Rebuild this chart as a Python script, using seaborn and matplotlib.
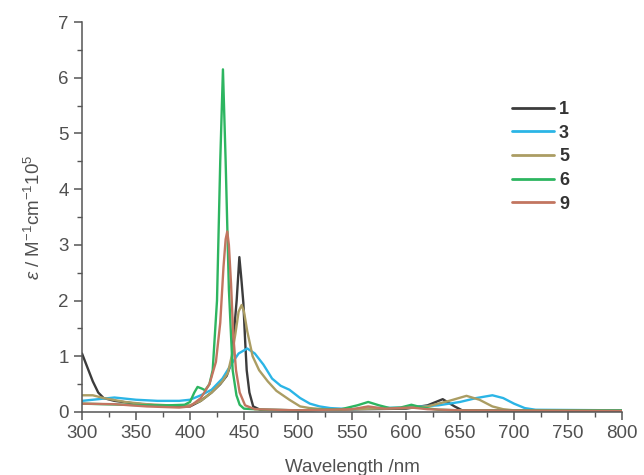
import matplotlib
matplotlib.use("Agg")
import matplotlib.pyplot as plt
from matplotlib.ticker import MultipleLocator
from matplotlib.lines import Line2D
import seaborn as sns
import pandas as pd

# ---- data ----
wl_1 = [300, 305, 310, 315, 320, 330, 350, 380, 400, 410, 420, 428, 434, 438.6, 441, 443.2, 445.7, 447.5, 449.4, 451, 452.5, 455, 458.5, 465, 500, 560, 600, 620, 634, 645, 652, 700, 800]
ab_1 = [1.05, 0.8, 0.55, 0.35, 0.25, 0.2, 0.15, 0.1, 0.1, 0.2, 0.35, 0.5, 0.65, 0.9, 1.5, 2.0, 2.78, 2.4, 1.96, 1.3, 0.75, 0.35, 0.1, 0.04, 0.03, 0.05, 0.06, 0.12, 0.23, 0.1, 0.03, 0.02, 0.02]

wl_3 = [300, 310, 330, 350, 370, 390, 400, 410, 420, 430, 438, 445, 453, 460, 468, 476, 484, 492, 502, 511, 520, 530, 550, 570, 600, 630, 650, 665, 680, 690, 700, 710, 720, 800]
ab_3 = [0.2, 0.22, 0.26, 0.22, 0.2, 0.2, 0.22, 0.3, 0.4, 0.6, 0.85, 1.05, 1.14, 1.05, 0.85, 0.6, 0.47, 0.4, 0.25, 0.15, 0.1, 0.07, 0.05, 0.07, 0.08, 0.12, 0.18, 0.25, 0.3, 0.25, 0.15, 0.07, 0.04, 0.03]

wl_5 = [300, 310, 320, 340, 360, 380, 400, 410, 420, 430, 435, 438.6, 442, 445, 447.8, 450, 453, 458, 464, 472, 480, 492, 502, 511, 530, 550, 570, 600, 620, 640, 656, 668, 680, 690, 700, 800]
ab_5 = [0.3, 0.3, 0.25, 0.18, 0.14, 0.12, 0.12, 0.2, 0.35, 0.55, 0.7, 1.0, 1.4, 1.8, 1.92, 1.8, 1.45, 1.0, 0.75, 0.55, 0.38, 0.22, 0.1, 0.07, 0.04, 0.05, 0.06, 0.07, 0.1, 0.2, 0.29, 0.22, 0.1, 0.05, 0.03, 0.02]

wl_6 = [300, 320, 340, 360, 380, 395, 400, 404, 407, 411, 414, 418, 421, 425, 428, 430.5, 433, 436, 439.5, 443, 446, 450, 470, 500, 540, 555, 565, 575, 585, 595, 605, 615, 630, 650, 700, 800]
ab_6 = [0.15, 0.14, 0.13, 0.12, 0.12, 0.13, 0.18, 0.35, 0.45, 0.42, 0.39, 0.5, 0.75, 2.0, 4.5, 6.15, 4.5, 2.2, 0.75, 0.3, 0.13, 0.06, 0.04, 0.03, 0.05, 0.12, 0.18, 0.12, 0.07, 0.08, 0.13, 0.08, 0.04, 0.03, 0.03, 0.03]

wl_9 = [300, 330, 360, 390, 400, 410, 418, 424, 428, 431, 433, 434.5, 436, 438, 440, 442.6, 446, 451, 460, 500, 550, 565, 580, 605, 620, 650, 800]
ab_9 = [0.15, 0.14, 0.1, 0.08, 0.1, 0.25, 0.5, 0.9, 1.6, 2.6, 3.1, 3.24, 3.0, 2.3, 1.4, 0.75, 0.35, 0.12, 0.05, 0.03, 0.05, 0.1, 0.06, 0.08, 0.05, 0.03, 0.02]

series_names = ["1", "3", "5", "6", "9"]
series_wl = [wl_1, wl_3, wl_5, wl_6, wl_9]
series_ab = [ab_1, ab_3, ab_5, ab_6, ab_9]
colors = ["#3c3c3c", "#2bb5e6", "#ab9d63", "#2db560", "#c27560"]

x_ticks = [300, 350, 400, 450, 500, 550, 600, 650, 700, 750, 800]
y_ticks = [0, 1, 2, 3, 4, 5, 6, 7]

rows = []
for name, w, a in zip(series_names, series_wl, series_ab):
    for xi, yi in zip(w, a):
        rows.append({"Wavelength": xi, "eps": yi, "compound": name})
df = pd.DataFrame(rows)

sns.set_style("ticks")
plt.rcParams["font.family"] = ["Liberation Sans", "DejaVu Sans"]
plt.rcParams["mathtext.fontset"] = "custom"
plt.rcParams["mathtext.rm"] = "Liberation Sans"
plt.rcParams["mathtext.it"] = "Liberation Sans:italic"

fig = plt.figure(figsize=(6.44, 4.75), dpi=100)
ax = fig.add_axes([82 / 644, 1 - 412 / 475, 540 / 644, 390 / 475])

sns.lineplot(data=df, x="Wavelength", y="eps", hue="compound", hue_order=series_names,
             palette=dict(zip(series_names, colors)), sort=False, estimator=None,
             linewidth=1.7, ax=ax, legend=False)

ax.set_xlim(300, 800)
ax.set_ylim(0, 7)
ax.set_xticks(x_ticks)
ax.set_yticks(y_ticks)
ax.xaxis.set_minor_locator(MultipleLocator(25))
ax.yaxis.set_minor_locator(MultipleLocator(0.5))

grey = "#555555"
ax.tick_params(which="major", direction="out", length=6, width=1.1, colors=grey,
               labelsize=13.5, labelcolor="#505050")
ax.tick_params(which="minor", direction="out", length=3.5, width=1.0, colors=grey)
for s in ["top", "right"]:
    ax.spines[s].set_visible(False)
for s in ["left", "bottom"]:
    ax.spines[s].set_color(grey)
    ax.spines[s].set_linewidth(1.1)

ax.set_xlabel("Wavelength /nm", fontsize=13.5, color="#505050", labelpad=12)
ax.set_ylabel(r"$\it{\varepsilon}$ / M$^{-1}$cm$^{-1}$10$^{5}$", fontsize=13.5,
              color="#505050", labelpad=10)

handles = [Line2D([0], [0], color=c, lw=2.0) for c in colors]
leg = fig.legend(handles, series_names, loc="upper left",
                 bbox_to_anchor=(503 / 644, 1 - 92 / 475), frameon=False,
                 borderpad=0, handlelength=2.3, handletextpad=0.3,
                 labelspacing=0.37, prop={"size": 13, "weight": "bold"})
for t in leg.get_texts():
    t.set_color("#333333")

fig.savefig("out.png", dpi=100)
